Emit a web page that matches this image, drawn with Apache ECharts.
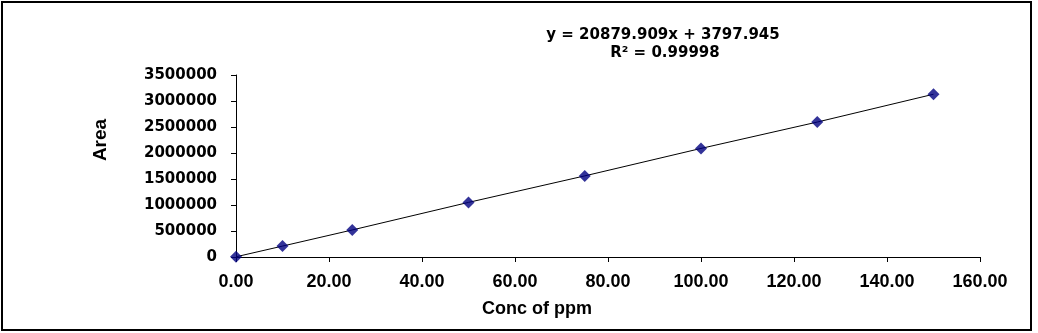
<!DOCTYPE html>
<html>
<head>
<meta charset="utf-8">
<script src="https://cdn.jsdelivr.net/npm/echarts@6/dist/echarts.min.js"></script>
<style>
html,body{margin:0;padding:0;background:#fff;}
#chart{width:1038px;height:333px;}
</style>
</head>
<body>
<div id="chart"></div>
<script>
// Data
const concentrations = [0, 10, 25, 50, 75, 100, 125, 150];
const areas = [4000, 210000, 520000, 1050000, 1560000, 2088000, 2595000, 3130000];
const equationText = 'y = 20879.909x + 3797.945';
const r2Text = 'R\u00B2 = 0.99998';
const xAxisTitle = 'Conc of ppm';
const yAxisTitle = 'Area';

const points = concentrations.map((c, i) => [c, areas[i]]);

const chart = echarts.init(document.getElementById('chart'));
const wideFont = '"DejaVu Sans", sans-serif';
const arialFont = '"Liberation Sans", Arial, sans-serif';

chart.setOption({
  animation: false,
  backgroundColor: '#ffffff',
  grid: { left: 236, right: 58, top: 75, bottom: 76, containLabel: false },
  xAxis: {
    type: 'value', min: 0, max: 160, interval: 20,
    axisLine: { show: true, onZero: false, lineStyle: { color: '#000', width: 1 } },
    axisTick: { show: true, inside: false, length: 5, lineStyle: { color: '#000' } },
    splitLine: { show: false },
    axisLabel: {
      margin: 16, color: '#000', fontFamily: arialFont, fontWeight: 'bold', fontSize: 18,
      formatter: v => v.toFixed(2)
    }
  },
  yAxis: {
    type: 'value', min: 0, max: 3500000, interval: 500000,
    axisLine: { show: true, lineStyle: { color: '#000', width: 1 } },
    axisTick: { show: true, inside: false, length: 5, lineStyle: { color: '#000' } },
    splitLine: { show: false },
    axisLabel: {
      margin: 19, color: '#000', fontFamily: wideFont, fontWeight: 'bold', fontSize: 15,
      formatter: v => String(v)
    }
  },
  series: [
    {
      type: 'line', data: points, showSymbol: false, symbol: 'none',
      lineStyle: { color: '#000', width: 1 }, z: 2
    },
    {
      type: 'scatter', data: points, symbol: 'diamond', symbolSize: 12,
      itemStyle: { color: '#000080' }, z: 3
    }
  ],
  graphic: [
    {
      type: 'rect', shape: { x: 2, y: 2, width: 1029, height: 328 },
      style: { fill: 'none', stroke: '#000', lineWidth: 2 }, silent: true
    },
    {
      type: 'text', x: 663, y: 35,
      style: { text: equationText, fill: '#000', font: 'bold 15px ' + wideFont, textAlign: 'center', textVerticalAlign: 'middle' }
    },
    {
      type: 'text', x: 665, y: 53,
      style: { text: r2Text, fill: '#000', font: 'bold 15px ' + wideFont, textAlign: 'center', textVerticalAlign: 'middle' }
    },
    {
      type: 'text', x: 537, y: 309,
      style: { text: xAxisTitle, fill: '#000', font: 'bold 18px ' + arialFont, textAlign: 'center', textVerticalAlign: 'middle' }
    },
    {
      type: 'text', x: 101, y: 140, rotation: Math.PI / 2,
      style: { text: yAxisTitle, fill: '#000', font: 'bold 19px ' + arialFont, textAlign: 'center', textVerticalAlign: 'middle' }
    }
  ]
});
</script>
</body>
</html>
